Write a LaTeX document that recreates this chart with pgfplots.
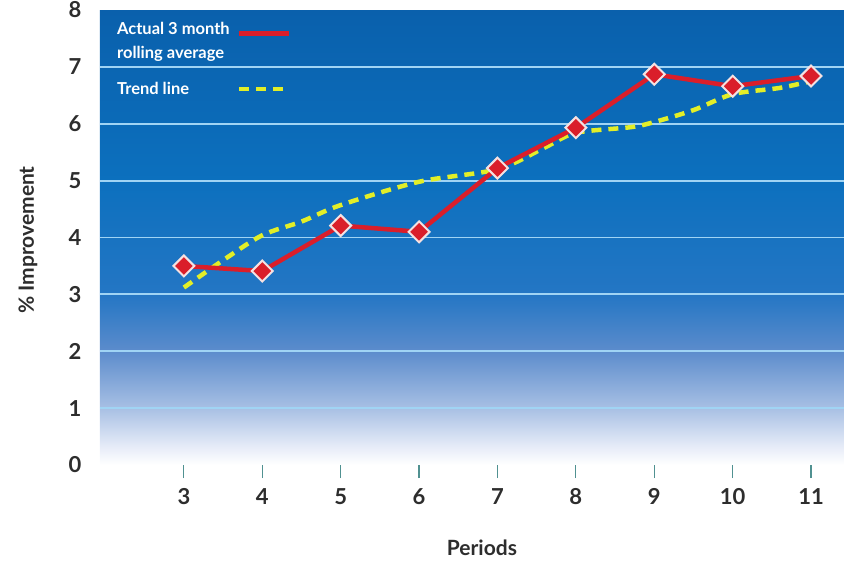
\documentclass[border=0pt]{standalone}
\usepackage{pgfplots}
\pgfplotsset{compat=1.18}
\usepackage{fontspec}
\setmainfont{Lato}

\definecolor{actualred}{RGB}{218,30,42}
\definecolor{markedge}{RGB}{245,225,225}
\definecolor{trendyellow}{RGB}{226,238,40}
\definecolor{gridblue}{RGB}{160,212,244}
\definecolor{textgray}{RGB}{45,45,45}
\definecolor{tickteal}{RGB}{80,145,145}
% background ramp, bottom to top
\definecolor{bgA}{RGB}{232,237,248}
\definecolor{bgB}{RGB}{168,192,228}
\definecolor{bgC}{RGB}{92,140,204}
\definecolor{bgD}{RGB}{36,118,196}
\definecolor{bgE}{RGB}{12,112,190}
\definecolor{bgF}{RGB}{10,96,172}

% stops: 25bp = value 0, 75bp = value 8
\pgfdeclareverticalshading{plotbg}{100bp}{%
  color(0bp)=(white); color(25bp)=(white); color(26.9bp)=(bgA);
  color(31.25bp)=(bgB); color(37.5bp)=(bgC); color(43.75bp)=(bgD);
  color(56.25bp)=(bgE); color(75bp)=(bgF); color(100bp)=(bgF)}

\pgfplotsset{
  raised line legend/.style={legend image code/.code={\draw[##1] (0pt,8pt) -- (50pt,8pt);}},
  flat line legend/.style={legend image code/.code={\draw[##1] (0pt,0pt) -- (50pt,0pt);}},
}

\pgfplotstableread{
x y
3 3.50
4 3.41
5 4.21
6 4.10
7 5.22
8 5.93
9 6.87
10 6.66
11 6.84
}\actualdata

\pgfplotstableread{
x y
3 3.12
3.5 3.60
4 4.04
4.5 4.28
5 4.57
6 4.98
7 5.20
7.6 5.58
8 5.84
8.7 5.94
9 6.03
9.5 6.24
10 6.52
10.6 6.63
11 6.75
}\trenddata

\begin{document}
\begin{tikzpicture}
\begin{axis}[
  at={(0pt,0pt)}, anchor=south west,
  scale only axis, width=744pt, height=455pt,
  xmin=1.93, xmax=11.42, ymin=0, ymax=8,
  axis line style={draw=none},
  axis background/.style={shading=plotbg},
  xtick={3,...,11}, ytick={0,...,8},
  xtick pos=bottom, ytick pos=left,
  tick align=outside,
  x tick style={draw=tickteal, line width=1.2pt},
  major tick length=13pt,
  y tick style={draw=none},
  extra y ticks={1,...,7}, extra y tick labels={},
  extra y tick style={grid=major, tick style={draw=none}},
  major grid style={draw=gridblue, line width=1.8pt},
  /pgf/number format/assume math mode=true,
  ticklabel style={font=\bfseries\fontsize{22}{22}\selectfont, text=textgray},
  xticklabel style={yshift=-7pt},
  yticklabel style={xshift=-2pt},
  xlabel={Periods}, ylabel={\% Improvement},
  label style={font=\bfseries\fontsize{21}{21}\selectfont, text=textgray},
  xlabel style={at={(axis description cs:0.5134,-0.1824)}, anchor=center},
  ylabel style={at={(axis description cs:-0.0968,0.4945)}, anchor=center},
  legend plot pos=right,
  legend cell align=left,
  legend style={draw=none, fill=none, at={(axis description cs:0.016,0.982)},
    anchor=north west, text=white,
    font=\bfseries\fontsize{16.5}{24}\selectfont,
    cells={align=left}, row sep=18pt,
    /tikz/every odd column/.append style={column sep=5pt}},
  clip=false,
]
\addlegendimage{actualred, line width=4.5pt, raised line legend}
\addlegendentry{Actual 3 month\\rolling average}
\addlegendimage{trendyellow, line width=4.5pt, dash pattern=on 10pt off 7pt, flat line legend}
\addlegendentry{Trend line}

\addplot[forget plot, trendyellow, line width=4.5pt, dash pattern=on 10pt off 7pt,
  smooth, tension=0.5, no markers] table {\trenddata};
\addplot[forget plot, actualred, line width=4.5pt, mark=square*,
  mark size=7.4pt, mark options={rotate=45, fill=actualred, draw=markedge,
  line width=2pt, solid}] table {\actualdata};
\end{axis}
\pgfresetboundingbox
\useasboundingbox (-100pt,-98pt) rectangle (744pt,465pt);
\end{tikzpicture}
\end{document}
